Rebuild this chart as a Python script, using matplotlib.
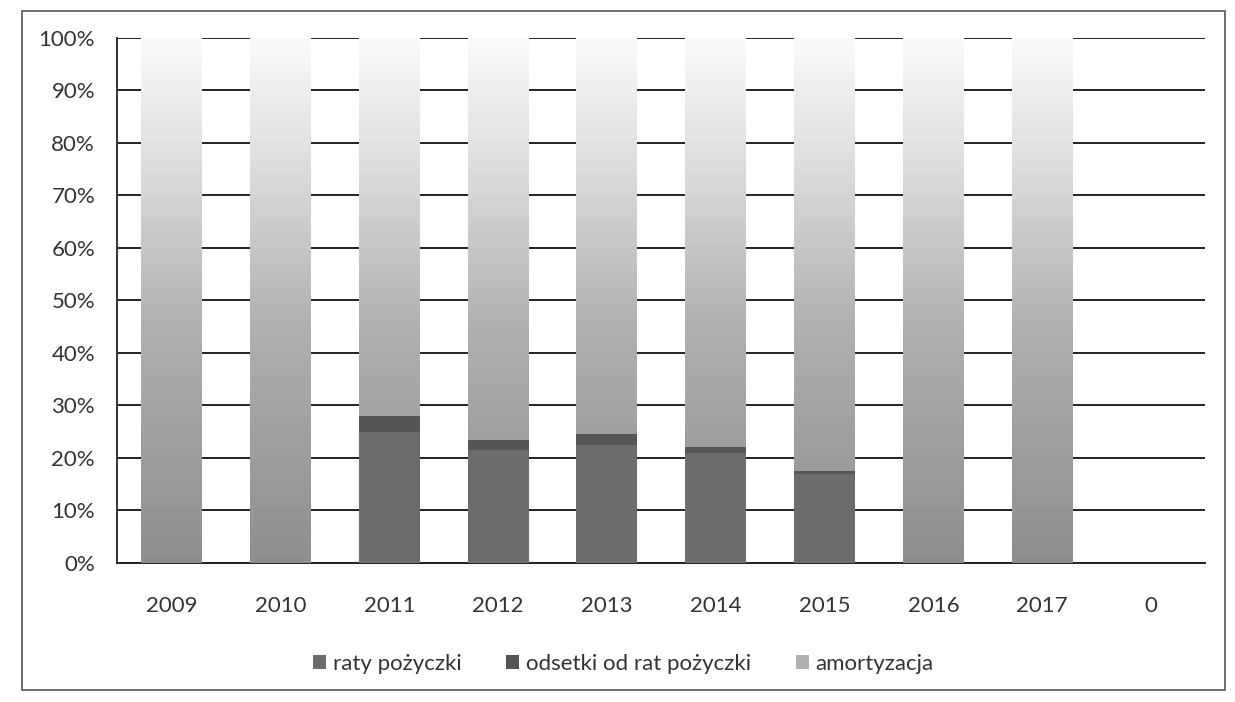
import numpy as np
import matplotlib.pyplot as plt
from matplotlib.patches import Rectangle

plt.rcParams['font.family'] = ['Lato', 'DejaVu Sans']

years = ['2009', '2010', '2011', '2012', '2013', '2014', '2015', '2016', '2017', '0']
raty = [0, 0, 25.0, 21.5, 22.5, 21.0, 17.0, 0, 0, 0]
odsetki = [0, 0, 3.0, 2.0, 2.0, 1.0, 0.5, 0, 0, 0]
amortyzacja = [100, 100, 72.0, 76.5, 75.5, 78.0, 82.5, 100, 100, 0]
y_ticks = [0, 10, 20, 30, 40, 50, 60, 70, 80, 90, 100]

fig = plt.figure(figsize=(12.35, 7.02), dpi=100)
ax = fig.add_axes([0.095, 0.198, 0.881, 0.748])

x = np.arange(len(years))
w = 0.56

ax.bar(x, raty, w, color='#6c6c6c', label='raty pożyczki', zorder=3)
ax.bar(x, odsetki, w, bottom=raty, color='#555555', label='odsetki od rat pożyczki', zorder=3)
bottoms = np.array(raty) + np.array(odsetki)
am_bars = ax.bar(x, amortyzacja, w, bottom=bottoms, color='#b0b0b0',
                 label='amortyzacja', zorder=3)

# faded scan look: gradient from mid grey to almost white towards the top
grad = np.linspace(0, 1, 256).reshape(-1, 1)
cmap = plt.matplotlib.colors.LinearSegmentedColormap.from_list(
    'fade', [(0, '#8e8e8e'), (0.45, '#b0b0b0'), (0.75, '#dcdcdc'), (1, '#fafafa')])
for bar in am_bars:
    if bar.get_height() <= 0:
        continue
    x0 = bar.get_x()
    im = ax.imshow(grad, extent=[x0, x0 + bar.get_width(), 0, 100], origin='lower',
                   cmap=cmap, aspect='auto', zorder=4)
    im.set_clip_path(bar)

ax.set_xlim(-0.5, len(years) - 0.5)
ax.set_ylim(0, 100)
ax.set_yticks(y_ticks)
ax.set_yticklabels([f'{t}%' for t in y_ticks])
ax.set_xticks(x)
ax.set_xticklabels(years)
ax.tick_params(axis='both', labelsize=16, colors='#333333', length=0)
ax.tick_params(axis='x', pad=24)
ax.tick_params(axis='y', pad=16)

ax.yaxis.grid(True, color='#222222', linewidth=1.4, zorder=1)
ax.set_axisbelow(True)
for side in ['top', 'right']:
    ax.spines[side].set_visible(False)
ax.spines['left'].set_color('#333333')
ax.spines['left'].set_linewidth(1.4)
ax.spines['bottom'].set_color('#222222')
ax.spines['bottom'].set_linewidth(1.4)

leg = ax.legend(loc='upper center', bbox_to_anchor=(0.465, -0.135), ncol=3, frameon=False,
                fontsize=16, handlelength=0.6, handleheight=0.6, handletextpad=0.3,
                columnspacing=2.0)
for t in leg.get_texts():
    t.set_color('#333333')

fig.patches.append(Rectangle((0.018, 0.017), 0.974, 0.968, transform=fig.transFigure,
                             fill=False, edgecolor='#555555', linewidth=1.2))

fig.savefig('out.png', dpi=100)
